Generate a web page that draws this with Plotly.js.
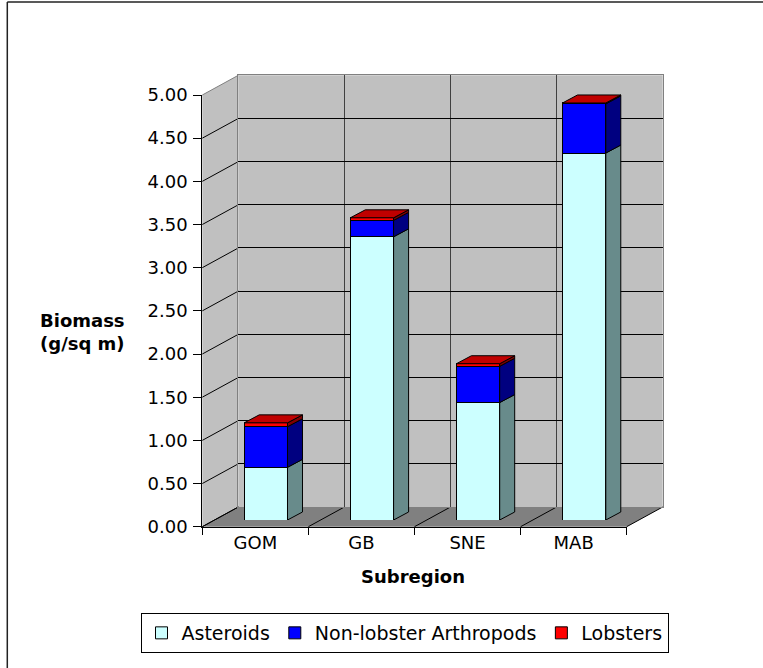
<!DOCTYPE html>
<html><head><meta charset="utf-8">
<script src="https://cdn.plot.ly/plotly-3.0.1.min.js"></script>
<style>html,body{margin:0;padding:0;background:#fff}</style>
</head><body><div id="chart" style="width:763px;height:668px"></div>
<script>
// ---- data ----
const categories = ['GOM', 'GB', 'SNE', 'MAB'];
const asteroids = [0.61, 3.28, 1.36, 4.25];
const nonLobsterArthropods = [0.47, 0.19, 0.42, 0.57];
const lobsters = [0.045, 0.03, 0.03, 0.01];
const seriesNames = ['Asteroids', 'Non-lobster Arthropods', 'Lobsters'];
const yTicks = [0, 0.5, 1, 1.5, 2, 2.5, 3, 3.5, 4, 4.5, 5];
const yTitle = 'Biomass<br>(g/sq m)';
const xTitle = 'Subregion';

// ---- geometry / style ----
const W = 763, H = 668;
const X0 = 202.3, CW = 106.1, Y0 = 526.7, U = 86.34;
const BACK = {dx: 36, dy: 19.7};
const BAR = {dx: 10.5, dy: 6.7};
const DEPTH = {dx: 15, dy: 8};
const BARW = 0.408;
const Y3MAX = 5.4;
const FONT = 'DejaVu Sans';
const px = x => x / W, py = y => 1 - y / H;
const nCat = categories.length;
const yMax = yTicks[yTicks.length - 1];
const colors = {
  front: ['#CCFFFF', '#0000FF', '#FF0000'],
  side: ['#688B8B', '#000080', '#800000'],
  top: ['#A8D8D8', '#0000C0', '#C00000']
};
const seriesVals = [asteroids, nonLobsterArthropods, lobsters];

const traces = seriesVals.map((vals, i) => ({
  type: 'bar', x: categories, y: vals, name: seriesNames[i],
  xaxis: 'x3', yaxis: 'y3', width: BARW,
  marker: {color: colors.front[i], line: {color: '#000', width: 1}},
  hoverinfo: 'skip'
}));
// helpers so that the front plane (tick labels) and back wall (gridlines) subplots are drawn
traces.push({type: 'scatter', mode: 'markers', x: categories, y: categories.map(() => null),
  xaxis: 'x', yaxis: 'y', showlegend: false, hoverinfo: 'skip', marker: {opacity: 0}});
traces.push({type: 'scatter', mode: 'markers', x: [null], y: [null],
  xaxis: 'x2', yaxis: 'y2', showlegend: false, hoverinfo: 'skip', marker: {opacity: 0}});

const shapes = [];
const P = (x, y) => px(x) + ',' + py(y);
const paperLine = (x0, y0, x1, y1, color, w) => ({type: 'line', xref: 'paper', yref: 'paper', layer: 'below',
  x0: px(x0), y0: py(y0), x1: px(x1), y1: py(y1), line: {color: color, width: w || 1}});

// back wall
shapes.push({type: 'rect', xref: 'paper', yref: 'paper', layer: 'below',
  x0: px(X0 + BACK.dx), x1: px(X0 + BACK.dx + nCat * CW),
  y0: py(Y0 - BACK.dy), y1: py(Y0 - BACK.dy - yMax * U),
  fillcolor: '#C0C0C0', line: {width: 0}});
// left wall
shapes.push({type: 'path', xref: 'paper', yref: 'paper', layer: 'below',
  path: 'M' + P(X0, Y0) + ' L' + P(X0, Y0 - yMax * U) + ' L' + P(X0 + BACK.dx, Y0 - BACK.dy - yMax * U) +
        ' L' + P(X0 + BACK.dx, Y0 - BACK.dy) + ' Z',
  fillcolor: '#C0C0C0', line: {width: 0}});
// floor
shapes.push({type: 'path', xref: 'paper', yref: 'paper', layer: 'below',
  path: 'M' + P(X0, Y0) + ' L' + P(X0 + nCat * CW, Y0) + ' L' + P(X0 + nCat * CW + BACK.dx, Y0 - BACK.dy) +
        ' L' + P(X0 + BACK.dx, Y0 - BACK.dy) + ' Z',
  fillcolor: '#808080', line: {width: 0}});
// left wall diagonals at ticks
yTicks.forEach(v => {
  shapes.push(paperLine(X0, Y0 - v * U, X0 + BACK.dx, Y0 - BACK.dy - v * U, v === yMax ? '#808080' : '#000'));
});
// floor diagonals at category boundaries
for (let k = 0; k <= nCat; k++) {
  shapes.push(paperLine(X0 + k * CW, Y0, X0 + k * CW + BACK.dx, Y0 - BACK.dy, '#000'));
}
// outer chart border (left & top visible)
shapes.push(paperLine(7.3, 2, 7.3, H + 5, '#222', 1.5));
shapes.push(paperLine(7.3, 2, W + 5, 2, '#222', 1.5));

// 3D faces of the bars (data coordinates of the bar axes)
const ddx = DEPTH.dx / CW, ddy = DEPTH.dy / U, hw = BARW / 2;
categories.forEach((c, i) => {
  let base = 0;
  seriesVals.forEach((vals, s) => {
    const v0 = base, v1 = base + vals[i], xr = i + hw;
    shapes.push({type: 'path', xref: 'x3', yref: 'y3', layer: 'above',
      path: `M${xr},${v0} L${xr + ddx},${v0 + ddy} L${xr + ddx},${v1 + ddy} L${xr},${v1} Z`,
      fillcolor: colors.side[s], line: {color: '#000', width: 1}});
    base = v1;
  });
  const xl = i - hw, xr = i + hw, s = seriesVals.length - 1;
  shapes.push({type: 'path', xref: 'x3', yref: 'y3', layer: 'above',
    path: `M${xl},${base} L${xl + ddx},${base + ddy} L${xr + ddx},${base + ddy} L${xr},${base} Z`,
    fillcolor: colors.top[s], line: {color: '#000', width: 1}});
});

const layout = {
  width: W, height: H,
  margin: {l: 0, r: 0, t: 0, b: 0},
  paper_bgcolor: '#fff', plot_bgcolor: 'rgba(0,0,0,0)',
  font: {family: FONT, size: 18, color: '#000'},
  showlegend: true,
  barmode: 'stack',
  xaxis: {domain: [px(X0), px(X0 + nCat * CW)], anchor: 'y', type: 'category',
    categoryorder: 'array', categoryarray: categories,
    range: [-0.5, nCat - 0.5], tickson: 'boundaries', ticks: 'outside', ticklen: 7, tickcolor: '#000',
    showline: true, linecolor: '#000', linewidth: 1, showgrid: false, zeroline: false,
    tickfont: {family: FONT, size: 18, color: '#000'}, fixedrange: true},
  yaxis: {domain: [py(Y0), py(Y0 - yMax * U)], anchor: 'x', range: [0, yMax],
    tickmode: 'array', tickvals: yTicks, ticktext: yTicks.map(v => v.toFixed(2)),
    ticks: 'outside', ticklen: 8, tickcolor: '#000', ticklabelstandoff: 2,
    showline: true, linecolor: '#000', linewidth: 1, showgrid: false, zeroline: false,
    tickfont: {family: FONT, size: 18, color: '#000'}, fixedrange: true},
  xaxis2: {domain: [px(X0 + BACK.dx), px(X0 + BACK.dx + nCat * CW)], anchor: 'y2',
    range: [-0.5, nCat - 0.5], tickmode: 'array',
    tickvals: categories.slice(1).map((c, i) => i + 0.5),
    showticklabels: false, ticks: '', showgrid: true, gridcolor: '#404040', gridwidth: 1,
    showline: true, mirror: true, linecolor: '#808080', zeroline: false, fixedrange: true},
  yaxis2: {domain: [py(Y0 - BACK.dy), py(Y0 - BACK.dy - yMax * U)], anchor: 'x2',
    range: [0, yMax], tickmode: 'array', tickvals: yTicks.filter(v => v > 0 && v < yMax),
    showticklabels: false, ticks: '', showgrid: true, gridcolor: '#000', gridwidth: 1,
    showline: true, mirror: true, linecolor: '#808080', zeroline: false, fixedrange: true},
  xaxis3: {domain: [px(X0 + BAR.dx), px(X0 + BAR.dx + nCat * CW)], anchor: 'y3', type: 'category',
    categoryorder: 'array', categoryarray: categories,
    range: [-0.5, nCat - 0.5], visible: false, fixedrange: true},
  yaxis3: {domain: [py(Y0 - BAR.dy), py(Y0 - BAR.dy - Y3MAX * U)], anchor: 'x3',
    range: [0, Y3MAX], visible: false, fixedrange: true},
  legend: {orientation: 'h', x: px(404.5), xanchor: 'center', y: py(613), yanchor: 'top',
    bordercolor: '#000', borderwidth: 1, bgcolor: '#fff', traceorder: 'normal',
    font: {family: FONT, size: 19, color: '#000'}},
  annotations: [
    {text: '<b>' + yTitle.split('<br>').join('</b><br><b>') + '</b>', xref: 'paper', yref: 'paper',
     x: px(82), y: py(332), xanchor: 'center', yanchor: 'middle', align: 'center', showarrow: false,
     font: {family: FONT, size: 18, color: '#000'}},
    {text: '<b>' + xTitle + '</b>', xref: 'paper', yref: 'paper',
     x: px(413.3), y: py(576), xanchor: 'center', yanchor: 'middle', showarrow: false,
     font: {family: FONT, size: 18, color: '#000'}}
  ],
  shapes: shapes
};

Plotly.newPlot('chart', traces, layout, {staticPlot: true, displayModeBar: false});
</script>
</body></html>
